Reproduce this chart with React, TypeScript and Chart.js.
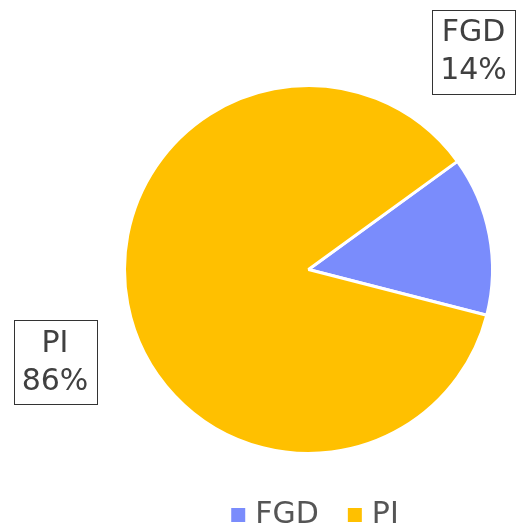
import React, { useEffect, useRef } from "react";
import { Chart, registerables } from "chart.js";

Chart.register(...registerables);

const categories = ["FGD", "PI"];
const values = [14, 86];
const percentLabels = ["14%", "86%"];
const colors = ["#7a8cfc", "#ffc000"];

const FONT = "'DejaVu Sans', Verdana, sans-serif";

const boxLabelPlugin = {
  id: "boxLabels",
  afterLayout(chart: any, _args: any, opts: any) {
    if (chart.legend) {
      chart.legend.left += opts.legendShift;
      chart.legend.right += opts.legendShift;
    }
  },
  afterDatasetsDraw(chart: any, _args: any, opts: any) {
    const ctx = chart.ctx;
    const meta = chart.getDatasetMeta(0);
    meta.data.forEach((arc: any, i: number) => {
      const off = opts.offsets[i];
      const cx = arc.x + off[0];
      const cy = arc.y + off[1];
      ctx.save();
      ctx.font = `${opts.fontSize}px ${FONT}`;
      const l1 = categories[i];
      const l2 = percentLabels[i];
      const w = Math.max(ctx.measureText(l1).width, ctx.measureText(l2).width);
      const lh = opts.lineHeight;
      const bw = Math.round(w + opts.padX * 2);
      const bh = Math.round(lh * 2 + opts.padY * 2);
      const x0 = Math.round(cx - bw / 2) + 0.5;
      const y0 = Math.round(cy - bh / 2) + 0.5;
      ctx.fillStyle = "#ffffff";
      ctx.fillRect(x0, y0, bw, bh);
      ctx.strokeStyle = "#333333";
      ctx.lineWidth = 1;
      ctx.strokeRect(x0, y0, bw, bh);
      ctx.fillStyle = "#404040";
      ctx.textAlign = "center";
      ctx.textBaseline = "middle";
      ctx.fillText(l1, cx, cy - lh / 2 + 1);
      ctx.fillText(l2, cx, cy + lh / 2 + 1);
      ctx.restore();
    });
  },
};

export default function App() {
  const ref = useRef<HTMLCanvasElement>(null);
  useEffect(() => {
    const chart = new Chart(ref.current!, {
      type: "pie",
      data: {
        labels: categories,
        datasets: [
          {
            data: values,
            backgroundColor: colors,
            borderColor: "#ffffff",
            borderWidth: 3,
            radius: 184,
          },
        ],
      },
      options: {
        animation: false,
        responsive: true,
        maintainAspectRatio: false,
        rotation: 54,
        layout: { padding: { left: 100, right: 0, top: 73, bottom: -14 } },
        plugins: {
          legend: {
            position: "bottom",
            labels: {
              font: { family: FONT, size: 30 },
              color: "#555555",
              usePointStyle: true,
              pointStyle: "rect",
              boxWidth: 4,
              boxHeight: 14,
              padding: 34,
              generateLabels: (c: any) =>
                categories.map((name, i) => ({
                  text: name,
                  fillStyle: colors[i],
                  strokeStyle: colors[i],
                  lineWidth: 0,
                  pointStyle: "rect",
                  hidden: false,
                  index: i,
                  fontColor: "#555555",
                })),
            },
          },
          tooltip: { enabled: false },
          boxLabels: {
            offsets: [
              [165, -218],
              [-253.5, 92.5],
            ],
            fontSize: 30,
            lineHeight: 38,
            padX: 8,
            padY: 4,
            legendShift: 9,
          },
        } as any,
      },
      plugins: [boxLabelPlugin],
    });
    return () => chart.destroy();
  }, []);
  return (
    <div style={{ position: "fixed", left: 0, top: 0, width: 517, height: 526 }}>
      <canvas ref={ref} />
    </div>
  );
}
